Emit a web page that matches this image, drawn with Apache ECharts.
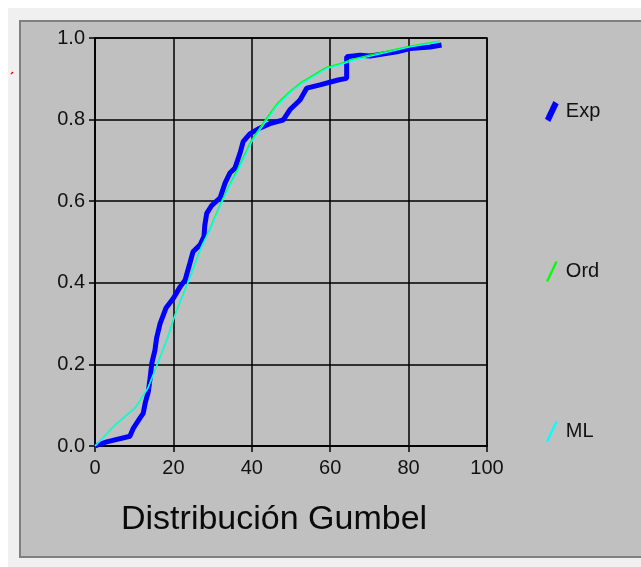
<!DOCTYPE html>
<html>
<head>
<meta charset="utf-8">
<title>Distribución Gumbel</title>
<script src="https://cdn.jsdelivr.net/npm/echarts@6/dist/echarts.min.js"></script>
<style>
  html, body { margin: 0; padding: 0; background: #ffffff; }
  #chart { width: 641px; height: 567px; }
</style>
</head>
<body>
<div id="chart"></div>
<script>
var expData = [
  [0, 0], [3, 0.01], [8.9, 0.024], [9.8, 0.044], [11.5, 0.069], [12.3, 0.08],
  [12.8, 0.105], [13.6, 0.133], [14, 0.162], [14.5, 0.203], [15.3, 0.235],
  [15.7, 0.264], [16.6, 0.3], [18.1, 0.338], [20, 0.362], [21.7, 0.39],
  [23, 0.407], [24.2, 0.448], [25, 0.476], [26.8, 0.493], [27.8, 0.513],
  [28, 0.54], [28.5, 0.57], [29.8, 0.59], [31.9, 0.608], [33.2, 0.645],
  [34.4, 0.669], [35.7, 0.681], [37, 0.718], [37.8, 0.746], [39.5, 0.765],
  [42, 0.779], [44.6, 0.79], [48, 0.799], [49.7, 0.824], [52.3, 0.848],
  [54, 0.877], [57.4, 0.885], [62, 0.897], [64.2, 0.901], [64.2, 0.954],
  [67.6, 0.958], [70.2, 0.956], [77, 0.966], [80.4, 0.974], [85.5, 0.978],
  [88.4, 0.983]
];
// fitted by ordinary moments (Ord)
var ordData = [
  [0, 0], [5, 0.05], [10.2, 0.093], [13.5, 0.142], [16, 0.203], [18.6, 0.267],
  [20.4, 0.321], [22.5, 0.372], [24.7, 0.426], [27.2, 0.491], [29.3, 0.532],
  [32, 0.594], [34.5, 0.644], [36.5, 0.681], [40, 0.751], [43.8, 0.804],
  [46.5, 0.84], [49.7, 0.869], [52.5, 0.891], [55.7, 0.909], [59, 0.928],
  [62.5, 0.937], [66, 0.949], [70, 0.958], [75, 0.969], [80.4, 0.98],
  [84, 0.986], [88, 0.992]
];
// fitted by maximum likelihood (ML)
var mlData = [
  [0, 0], [5, 0.05], [10.2, 0.093], [13.5, 0.142], [16, 0.203], [18.6, 0.267],
  [20.4, 0.321], [22.5, 0.37], [24.7, 0.424], [27.2, 0.489], [29.3, 0.529],
  [32, 0.59], [34.5, 0.64], [36.5, 0.676], [40, 0.746], [43.8, 0.799],
  [46.5, 0.835], [49.7, 0.865], [52.5, 0.887], [55.7, 0.905], [59, 0.925],
  [62.5, 0.934], [66, 0.946], [70, 0.955], [75, 0.966], [80.4, 0.978],
  [84, 0.984], [88, 0.991]
];
var seriesNames = ['Exp', 'Ord', 'ML'];
var seriesColors = ['#0000ff', '#00ff00', '#00ffff'];
var titleText = 'Distribución Gumbel';

var chart = echarts.init(document.getElementById('chart'));
var font = 'Liberation Sans, Arial, sans-serif';
var slash = 'path://M0,19 L9,0 L11,1 L2,20 Z';
var slashThick = 'path://M0,17 L8,0 L13,3 L5,20 Z';

chart.setOption({
  animation: false,
  backgroundColor: '#ffffff',
  graphic: [
    { type: 'rect', z: -10, shape: { x: 8, y: 8, width: 640, height: 565 }, style: { fill: '#f0f0f0' } },
    { type: 'rect', z: -9, shape: { x: 20, y: 21, width: 630, height: 536 },
      style: { fill: '#c0c0c0', stroke: '#808080', lineWidth: 2 } },
    { type: 'line', z: -8, shape: { x1: 11, y1: 74, x2: 13, y2: 72 },
      style: { stroke: '#ff0000', lineWidth: 1.5 } },
    { type: 'text', left: 121, top: 503, z: 5,
      style: { text: titleText, font: '34px ' + font, fill: '#0a0a0a' } }
  ],
  grid: { left: 95, right: 154, top: 38, bottom: 121, show: true,
    borderColor: '#000000', borderWidth: 1.5, backgroundColor: 'transparent' },
  legend: {
    orient: 'vertical', left: 540, top: 96, itemGap: 139,
    itemWidth: 14, itemHeight: 21,
    textStyle: { fontFamily: font, fontSize: 20, color: '#111111', padding: [0, 0, 0, 2] },
    data: [
      { name: seriesNames[0], icon: slashThick },
      { name: seriesNames[1], icon: slash },
      { name: seriesNames[2], icon: slash }
    ]
  },
  xAxis: {
    type: 'value', min: 0, max: 100, interval: 20,
    axisLine: { show: true, onZero: false, lineStyle: { color: '#000000', width: 1.5 } },
    axisTick: { show: true, length: 6, lineStyle: { color: '#000000', width: 1.5 } },
    axisLabel: { margin: 12, fontFamily: font, fontSize: 20, color: '#111111' },
    splitLine: { show: true, lineStyle: { color: '#000000', width: 1.5 } }
  },
  yAxis: {
    type: 'value', min: 0, max: 1, interval: 0.2,
    axisLine: { show: true, lineStyle: { color: '#000000', width: 1.5 } },
    axisTick: { show: true, length: 6, lineStyle: { color: '#000000', width: 1.5 } },
    axisLabel: { margin: 10, fontFamily: font, fontSize: 20, color: '#111111',
      formatter: function (v) { return v.toFixed(1); } },
    splitLine: { show: true, lineStyle: { color: '#000000', width: 1.5 } }
  },
  series: [
    { name: seriesNames[0], type: 'line', data: expData, showSymbol: false,
      color: seriesColors[0], lineStyle: { width: 5, color: seriesColors[0] } },
    { name: seriesNames[1], type: 'line', data: ordData, showSymbol: false,
      color: seriesColors[1], lineStyle: { width: 1.3, color: seriesColors[1] } },
    { name: seriesNames[2], type: 'line', data: mlData, showSymbol: false,
      color: seriesColors[2], lineStyle: { width: 1.3, color: seriesColors[2] } }
  ]
});
</script>
</body>
</html>
